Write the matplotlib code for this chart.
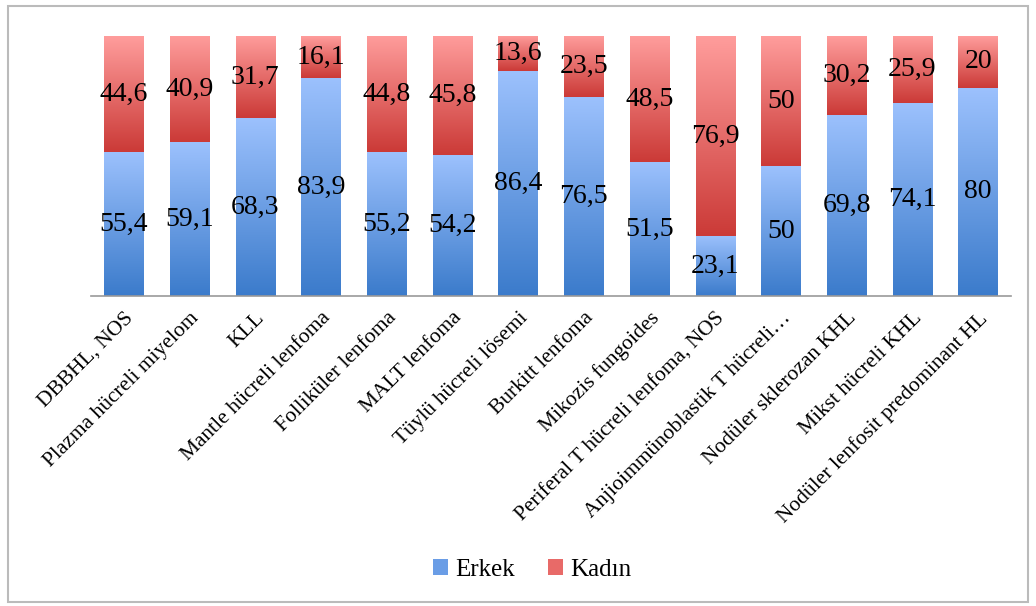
import numpy as np
import matplotlib
matplotlib.use("Agg")
import matplotlib.pyplot as plt
from matplotlib.colors import LinearSegmentedColormap
from matplotlib.patches import Rectangle, Patch
import matplotlib.transforms as mtrans

categories = ["DBBHL, NOS", "Plazma hücreli miyelom", "KLL", "Mantle hücreli lenfoma",
              "Foll" + "iküler lenfoma", "MALT lenfoma", "Tüylü hücreli lösemi",
              "Burkitt lenfoma", "Mikozis fungoides", "Periferal T hücreli lenfoma, NOS",
              "Anjioimmünoblastik T hücreli…", "Nodüler sklerozan KHL",
              "Mikst hücreli KHL", "Nodüler lenfosit predominant HL"]
erkek = [55.4, 59.1, 68.3, 83.9, 55.2, 54.2, 86.4, 76.5, 51.5, 23.1, 50, 69.8, 74.1, 80]
kadin = [44.6, 40.9, 31.7, 16.1, 44.8, 45.8, 13.6, 23.5, 48.5, 76.9, 50, 30.2, 25.9, 20]
series_names = ["Erkek", "Kadın"]

W, H = 1036, 606
fig = plt.figure(figsize=(W / 100, H / 100), dpi=100)
ax = fig.add_axes([91 / W, 1 - 296 / H, (1011 - 91) / W, (296 - 36) / H])

blue_cmap = LinearSegmentedColormap.from_list("b", ["#3b7bcb", "#9cc1fd"])
red_cmap = LinearSegmentedColormap.from_list("r", ["#cb3a37", "#ff9d9c"])
grad = np.linspace(0, 1, 256).reshape(-1, 1)

x = np.arange(len(categories))
bw = 0.6
fmt = lambda v: (f"{v:g}").replace(".", ",")

for i in range(len(categories)):
    segs = [(0, erkek[i], blue_cmap), (erkek[i], erkek[i] + kadin[i], red_cmap)]
    for y0, y1, cm in segs:
        ax.imshow(grad, cmap=cm, origin="lower", aspect="auto",
                  extent=(x[i] - bw / 2, x[i] + bw / 2, y0, y1), zorder=2)
    ax.text(x[i], erkek[i] / 2, fmt(erkek[i]), ha="center", va="center",
            fontsize=20, family="Liberation Serif", color="#000000", zorder=3)
    ax.text(x[i], erkek[i] + kadin[i] / 2, fmt(kadin[i]), ha="center", va="center",
            fontsize=20, family="Liberation Serif", color="#000000", zorder=3)

ax.set_xlim(-0.5, len(categories) - 0.5)
ax.set_ylim(0, 100)
ax.set_yticks([])
for s in ["top", "right", "left"]:
    ax.spines[s].set_visible(False)
ax.spines["bottom"].set_color("#999999")
ax.spines["bottom"].set_linewidth(1.2)
ax.set_xticks(x)
ax.set_xticklabels(categories, rotation=45, ha="right", rotation_mode="anchor",
                   fontsize=15.5, family="Liberation Serif")
ax.tick_params(axis="x", length=0, pad=9)
for lab in ax.get_xticklabels():
    lab.set_transform(lab.get_transform() + mtrans.ScaledTranslation(0, 0, fig.dpi_scale_trans))

handles = [Patch(facecolor="#6a9de6", label=series_names[0]),
           Patch(facecolor="#e86a68", label=series_names[1])]
fig.legend(handles=handles, loc="center", bbox_to_anchor=(532 / W, 1 - 570 / H), ncol=2,
           frameon=False, prop={"family": "Liberation Serif", "size": 18},
           handlelength=0.6, handleheight=0.6, handletextpad=0.3, columnspacing=1.3)

fig.patches.append(Rectangle((8 / W, 1 - 602 / H), (1028 - 8) / W, (602 - 6) / H,
                             transform=fig.transFigure, fill=False,
                             edgecolor="#bbbbbb", linewidth=1.5))

fig.savefig("out.png", dpi=100)
